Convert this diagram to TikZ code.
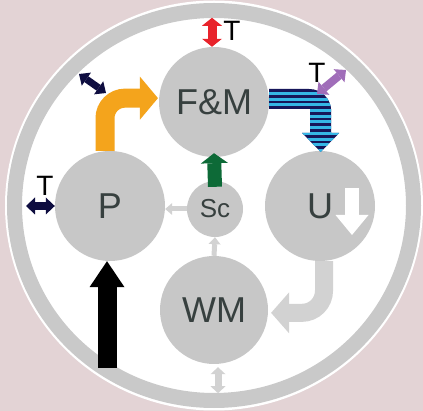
\documentclass[tikz,border=0pt]{standalone}
\usepackage{fontspec}
\setmainfont{Liberation Sans}
\setsansfont{Liberation Sans}
\usetikzlibrary{arrows.meta}
\definecolor{blush}{HTML}{E3D3D5}
\definecolor{rim}{HTML}{C9C9C9}
\definecolor{disc}{HTML}{C7C7C7}
\definecolor{ink}{HTML}{37403F}
\definecolor{faint}{HTML}{D2D2D2}
\definecolor{amber}{HTML}{F4A41C}
\definecolor{navy}{HTML}{0E0D40}
\definecolor{stripe}{HTML}{35B6E6}
\definecolor{deepblue}{HTML}{16165A}
\definecolor{signal}{HTML}{E8232B}
\definecolor{violet}{HTML}{A06DB9}
\definecolor{forest}{HTML}{0D6A37}
\tikzset{
  font=\sffamily,
  disc/.style={
    circle, fill=disc, text=ink, inner sep=0pt, minimum size=110pt,
    font=\sffamily\fontsize{36}{36}\selectfont
  },
  smalldisc/.style={disc, minimum size=56pt, font=\sffamily\fontsize{26}{26}\selectfont},
  tlabel/.style={font=\sffamily\fontsize{28}{28}\selectfont, text=black, inner sep=0pt},
  oneway/.style n args={3}{
    line width=#1, -{Triangle[length=#2,width=#3,line width=0pt]}
  },
  twoway/.style n args={3}{
    line width=#1,
    {Triangle[length=#2,width=#3,line width=0pt]}-{Triangle[length=#2,width=#3,line width=0pt]}
  },
  pale/.style={oneway={5pt}{7pt}{12pt}, draw=faint}
}

\begin{document}
\begin{tikzpicture}[x=1pt,y=-1pt]
  \useasboundingbox (0,0) rectangle (423,411);
  \fill[blush] (0,0) rectangle (423,411);

  % outer ring
  \fill[white] (214,205.5) ellipse [x radius=209, y radius=205];
  \draw[rim, line width=15pt] (214,205.5) ellipse [x radius=199.5, y radius=195];

  % compartments
  \node[disc] (fm) at (214,102) {F\&M};
  \node[disc] (p)  at (110,206) {P};
  \node[disc] (u)  at (320,206) {U};
  \node[disc, minimum size=108pt] (wm) at (214,310) {WM};
  \node[smalldisc] (sc) at (215,209) {Sc};

  \coordinate (feed) at (107,368);
  \coordinate (nw1) at (79,74);
  \coordinate (nw2) at (106,93);
  \coordinate (lt)  at (26,206);
  \coordinate (ne1) at (317,94);
  \coordinate (ne2) at (346,70);

  % main flows
  \draw[oneway={19pt}{18pt}{43pt}, draw=amber, rounded corners=20pt]
    ([xshift=-5pt]p.north) |- ([xshift=-1pt]fm.176);
  \draw[oneway={19pt}{26pt}{35pt}, draw=black] (feed) -- ([xshift=-3pt]p.south);
  \draw[oneway={14pt}{10pt}{27pt}, draw=forest]
    ([yshift=-6pt]sc.north) -- ([yshift=4pt]fm.south);
  \draw[oneway={18pt}{18pt}{41pt}, draw=faint, rounded corners=22pt]
    ([xshift=4pt]u.south) |- ([xshift=3pt]wm.-3);
  \draw[oneway={14pt}{20pt}{33pt}, draw=white]
    ([xshift=32pt,yshift=18pt]u.center) -- ([xshift=32pt,yshift=-29pt]u.center);

  % striped flow F&M -> U
  \begin{scope}
    \clip (fm.east) ++(0,-13) -- ++(40,0)
      arc[start angle=-90, end angle=0, radius=22] -- ++(0,22) -- ++(8,0)
      -- ++(-18.5,19) -- ++(-18.5,-19) -- ++(8,0) -- ++(0,-24) -- ++(-41,0) -- cycle;
    \fill[deepblue] (260,80) rectangle (345,156);
    \foreach \s in {0,...,10}
      \fill[stripe] (260,{92+5.7*\s}) rectangle (345,{95+5.7*\s});
  \end{scope}

  % small transfers
  \draw[pale] (sc.west) -- (sc.west -| p.east);
  \draw[pale] (wm.north) -- (sc.south);
  \draw[twoway={7pt}{7pt}{15pt}, draw=faint]
    ([xshift=4pt,yshift=-3pt]wm.south) -- ++(0,26);

  % exchanges with the outside
  \draw[twoway={9pt}{8pt}{20pt}, draw=signal] ([xshift=-2pt]fm.north) -- ++(0,-29);
  \draw[twoway={7pt}{9pt}{16pt}, draw=navy] (nw1) -- (nw2);
  \draw[twoway={8pt}{9pt}{17pt}, draw=navy] (lt) -- (p.west);
  \draw[twoway={8pt}{9pt}{17pt}, draw=violet] (ne1) -- (ne2);

  \node[tlabel] (tfm) at (232,31) {T};
  \node[tlabel] (tp)  at (45,186) {T};
  \node[tlabel] (tu)  at (317,73) {T};
\end{tikzpicture}
\end{document}
